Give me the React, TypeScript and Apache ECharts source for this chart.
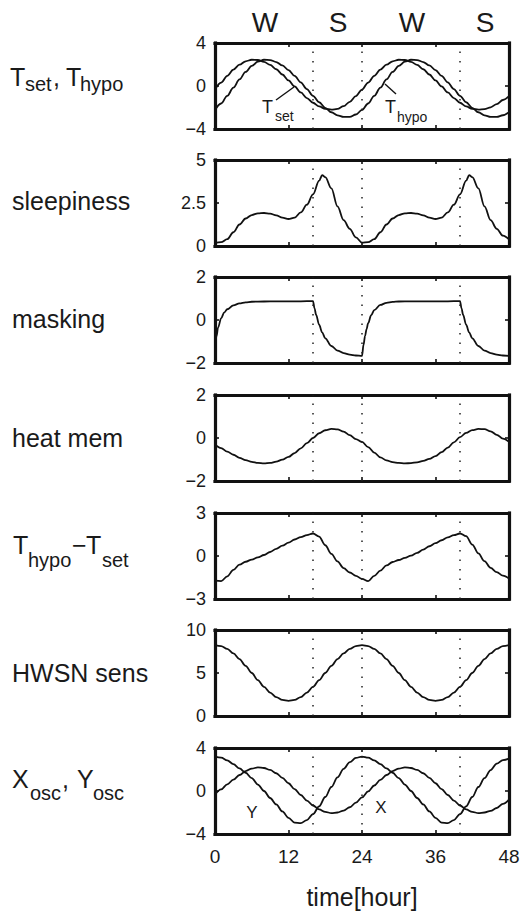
import React, { useEffect, useRef } from "react";
import * as echarts from "echarts";

const FONT = "'Liberation Sans', Arial, Helvetica, sans-serif";
const INK = "#111111";

// ---------------- data (time in hours) ----------------
const HOURS = [0,1,2,3,4,5,6,7,8,9,10,11,12,13,14,15,16,17,18,19,20,21,22,23,24,25,26,27,28,29,30,31,32,33,34,35,36,37,38,39,40,41,42,43,44,45,46,47,48];

const T_SET = [-0.33,0.32,0.95,1.52,1.98,2.30,2.44,2.42,2.25,1.96,1.56,1.07,0.52,-0.04,-0.60,-1.12,-1.56,-1.90,-2.12,-2.20,-2.13,-1.88,-1.47,-0.94,
  -0.33,0.32,0.95,1.52,1.98,2.30,2.44,2.42,2.25,1.96,1.56,1.07,0.52,-0.04,-0.60,-1.12,-1.56,-1.90,-2.12,-2.20,-2.15,-1.98,-1.68,-1.30,-0.95];
const T_HYPO = [-2.23,-1.63,-0.92,-0.15,0.61,1.31,1.87,2.26,2.44,2.41,2.23,1.91,1.48,0.94,0.34,-0.29,-0.92,-1.51,-2.03,-2.44,-2.73,-2.88,-2.87,-2.65,
  -2.23,-1.63,-0.92,-0.15,0.61,1.31,1.87,2.26,2.44,2.41,2.23,1.91,1.48,0.94,0.34,-0.29,-0.92,-1.51,-2.03,-2.44,-2.73,-2.88,-2.87,-2.72,-2.45];

const SLEEP_T = [0,1,2,3,4,5,6,7,8,9,10,11,12,13,14,15,16,17,17.5,18,19,20,21,22,23,24,25,26,27,28,29,30,31,32,33,34,35,36,37,38,39,40,41,41.5,42,43,44,45,46,47,48];
const SLEEPINESS = [0.18,0.22,0.4,0.8,1.25,1.6,1.8,1.9,1.92,1.88,1.78,1.65,1.57,1.65,1.95,2.4,3.0,3.8,4.12,4.0,3.35,2.3,1.5,1.0,0.5,
  0.2,0.22,0.4,0.8,1.25,1.6,1.8,1.9,1.92,1.88,1.78,1.65,1.57,1.65,1.95,2.4,3.0,3.8,4.12,4.0,3.35,2.3,1.5,1.0,0.6,0.38];

const MASK_T = [0,0.25,0.5,1,1.5,2,3,4,5,6,8,10,12,14,16,16.25,16.5,17,17.5,18,19,20,21,22,23,24,24.25,24.5,24.75,25,25.5,26,27,28,29,30,32,34,36,38,40,40.25,40.5,41,41.5,42,43,44,45,46,47,48];
const MASKING = [-1.3,-0.75,-0.35,0.08,0.35,0.5,0.68,0.77,0.82,0.85,0.86,0.87,0.87,0.87,0.88,0.54,0.25,-0.22,-0.58,-0.85,-1.21,-1.42,-1.54,-1.61,-1.65,-1.67,
  -1.15,-0.74,-0.42,-0.15,0.22,0.46,0.70,0.80,0.84,0.86,0.87,0.87,0.87,0.87,0.88,0.54,0.25,-0.22,-0.58,-0.85,-1.21,-1.42,-1.54,-1.61,-1.65,-1.67];

const HEAT_MEM = [-0.30,-0.47,-0.63,-0.78,-0.92,-1.03,-1.11,-1.16,-1.18,-1.16,-1.10,-1.01,-0.88,-0.70,-0.48,-0.24,0.00,0.22,0.36,0.42,0.40,0.30,0.13,-0.05,
  -0.18,-0.42,-0.68,-0.90,-1.04,-1.12,-1.16,-1.18,-1.17,-1.13,-1.06,-0.97,-0.84,-0.66,-0.45,-0.20,0.04,0.24,0.37,0.42,0.41,0.31,0.15,-0.03,-0.18];

const T_DIFF = [-1.72,-1.75,-1.42,-0.97,-0.60,-0.40,-0.25,-0.10,0.07,0.28,0.50,0.72,0.93,1.15,1.32,1.46,1.57,1.35,0.75,0.15,-0.38,-0.85,-1.15,-1.38,
  -1.60,-1.75,-1.38,-1.02,-0.66,-0.42,-0.28,-0.13,0.02,0.22,0.45,0.68,0.90,1.10,1.30,1.45,1.57,1.38,0.80,0.18,-0.36,-0.83,-1.13,-1.37,-1.58];

const HWSN = [8.24,8.13,7.81,7.29,6.62,5.84,5.00,4.16,3.38,2.71,2.19,1.87,1.76,1.87,2.19,2.71,3.38,4.16,5.00,5.84,6.62,7.29,7.81,8.13,
  8.24,8.13,7.81,7.29,6.62,5.84,5.00,4.16,3.38,2.71,2.19,1.87,1.76,1.87,2.19,2.71,3.38,4.16,5.00,5.84,6.62,7.29,7.81,8.13,8.24];

const X_OSC = [3.20,3.10,2.85,2.50,2.10,1.70,1.20,0.60,0.00,-0.65,-1.25,-1.90,-2.50,-2.95,-2.99,-2.70,-2.15,-1.43,-0.56,0.37,1.26,2.06,2.68,3.08,
  3.20,3.10,2.85,2.50,2.10,1.70,1.20,0.60,0.00,-0.65,-1.25,-1.90,-2.50,-2.95,-2.99,-2.70,-2.15,-1.43,-0.56,0.37,1.20,1.95,2.55,2.88,3.02];
const Y_OSC = [-0.34,0.15,0.62,1.05,1.49,1.85,2.09,2.19,2.14,1.96,1.65,1.23,0.72,0.18,-0.37,-0.89,-1.35,-1.71,-1.95,-2.05,-2.00,-1.82,-1.51,-1.09,
  -0.59,-0.04,0.51,1.03,1.49,1.85,2.09,2.19,2.14,1.96,1.65,1.23,0.72,0.18,-0.37,-0.89,-1.35,-1.71,-1.95,-2.05,-2.00,-1.85,-1.58,-1.20,-0.80];

const X_TICKS = { min: 0, max: 48, interval: 12 };
const Y_RANGES = [
  { min: -4, max: 4, interval: 4 },
  { min: 0, max: 5, interval: 2.5 },
  { min: -2, max: 2, interval: 2 },
  { min: -2, max: 2, interval: 2 },
  { min: -3, max: 3, interval: 3 },
  { min: 0, max: 10, interval: 5 },
  { min: -4, max: 4, interval: 4 },
];
const BOUNDARIES = [16, 24, 40];
const PHASES = ["W", "S", "W", "S"];

// ---------------- layout ----------------
const TOPS = [43, 160, 277, 395, 513, 630, 748];
const GRID_LEFT = 215;
const GRID_W = 294;
const GRID_H = 86;

const SERIES_DEF = [
  { g: 0, t: HOURS, v: T_SET },
  { g: 0, t: HOURS, v: T_HYPO },
  { g: 1, t: SLEEP_T, v: SLEEPINESS },
  { g: 2, t: MASK_T, v: MASKING },
  { g: 3, t: HOURS, v: HEAT_MEM },
  { g: 4, t: HOURS, v: T_DIFF },
  { g: 5, t: HOURS, v: HWSN },
  { g: 6, t: HOURS, v: X_OSC },
  { g: 6, t: HOURS, v: Y_OSC },
];

const minus = (v: number) => String(v).replace("-", "\u2212");

function txt(text: string, x: number, y: number, size: number, align = "left") {
  return {
    type: "text",
    x,
    y,
    silent: true,
    style: { text, fontSize: size, fontFamily: FONT, fill: "#1a1a1a", align, verticalAlign: "middle" },
  };
}

function buildOption() {
  const grid: any[] = [];
  const xAxis: any[] = [];
  const yAxis: any[] = [];
  const frame = { show: true, onZero: false, lineStyle: { color: INK, width: 3.2, cap: "square" } };
  const tick = { show: true, inside: true, length: 4, lineStyle: { color: INK, width: 1.6 } };
  TOPS.forEach((top, i) => {
    grid.push({ left: GRID_LEFT, top, width: GRID_W, height: GRID_H, show: false });
    xAxis.push({
      type: "value", gridIndex: i, position: "bottom", ...X_TICKS,
      axisLine: frame, splitLine: { show: false }, axisTick: tick,
      axisLabel: { show: i === TOPS.length - 1, fontSize: 19, fontFamily: FONT, color: "#1a1a1a", margin: 13 },
    });
    xAxis.push({
      type: "value", gridIndex: i, position: "top", ...X_TICKS,
      axisLine: frame, splitLine: { show: false }, axisTick: tick, axisLabel: { show: false },
    });
    yAxis.push({
      type: "value", gridIndex: i, position: "left", ...Y_RANGES[i],
      axisLine: frame, splitLine: { show: false }, axisTick: tick,
      axisLabel: { fontSize: 18, fontFamily: FONT, color: "#1a1a1a", margin: 9, formatter: minus },
    });
    yAxis.push({
      type: "value", gridIndex: i, position: "right", ...Y_RANGES[i],
      axisLine: frame, splitLine: { show: false }, axisTick: tick, axisLabel: { show: false },
    });
  });

  const seen = new Set<number>();
  const series = SERIES_DEF.map((d) => {
    const first = !seen.has(d.g);
    seen.add(d.g);
    const s: any = {
      type: "line",
      xAxisIndex: d.g * 2,
      yAxisIndex: d.g * 2,
      data: d.t.map((t, k) => [t, d.v[k]]),
      showSymbol: false,
      smooth: 0.35,
      smoothMonotone: "x",
      lineStyle: { color: INK, width: 1.8 },
      silent: true,
      z: 3,
    };
    if (first) {
      s.markLine = {
        silent: true,
        symbol: ["none", "none"],
        label: { show: false },
        lineStyle: { color: "#222", width: 1.5, type: [1.5, 8] },
        data: BOUNDARIES.map((b) => ({ xAxis: b })),
      };
    }
    return s;
  });

  const graphic: any[] = [];
  const phaseX = [265, 338, 412, 485];
  PHASES.forEach((p, i) => graphic.push(txt(p, phaseX[i], 22, 28, "center")));

  // panel labels
  graphic.push(txt("T", 10, 76.5, 25), txt("set", 25, 84, 20), txt(",", 53, 76.5, 25), txt("T", 66, 76.5, 25), txt("hypo", 80, 84, 20));
  graphic.push(txt("sleepiness", 12, 200.5, 25));
  graphic.push(txt("masking", 12, 318.5, 25));
  graphic.push(txt("heat mem", 12, 437.5, 25));
  graphic.push(txt("T", 13, 544.5, 25), txt("hypo", 28, 560, 20), txt("\u2212", 72, 544.5, 25), txt("T", 86, 544.5, 25), txt("set", 102, 560, 20));
  graphic.push(txt("HWSN sens", 12, 672.5, 25));
  graphic.push(txt("X", 12, 778.5, 25), txt("osc", 30, 793, 20), txt(",", 62, 778.5, 25), txt("Y", 77, 778.5, 25), txt("osc", 93, 793, 20));

  // curve annotations
  graphic.push(txt("T", 262, 106.5, 18), txt("set", 275, 116, 14));
  graphic.push({ type: "line", silent: true, shape: { x1: 276, y1: 100, x2: 294, y2: 87 }, style: { stroke: INK, lineWidth: 1.4 } });
  graphic.push(txt("T", 385, 106.5, 18), txt("hypo", 397, 116.5, 14));
  graphic.push({ type: "line", silent: true, shape: { x1: 385, y1: 84, x2: 396, y2: 94 }, style: { stroke: INK, lineWidth: 1.4 } });
  graphic.push(txt("Y", 252, 812.5, 17, "center"));
  graphic.push(txt("X", 381, 807.5, 17, "center"));

  graphic.push(txt("time[hour]", 362, 897, 25, "center"));

  return {
    animation: false,
    backgroundColor: "#ffffff",
    grid,
    xAxis,
    yAxis,
    series,
    graphic,
  };
}

export default function App() {
  const ref = useRef<HTMLDivElement>(null);
  useEffect(() => {
    if (!ref.current) return;
    const chart = echarts.init(ref.current, undefined, { renderer: "svg", width: 524, height: 918 });
    chart.setOption(buildOption() as any);
    return () => chart.dispose();
  }, []);
  return (
    <div
      ref={ref}
      style={{ position: "absolute", left: 0, top: 0, width: 524, height: 918, background: "#fff" }}
    />
  );
}
